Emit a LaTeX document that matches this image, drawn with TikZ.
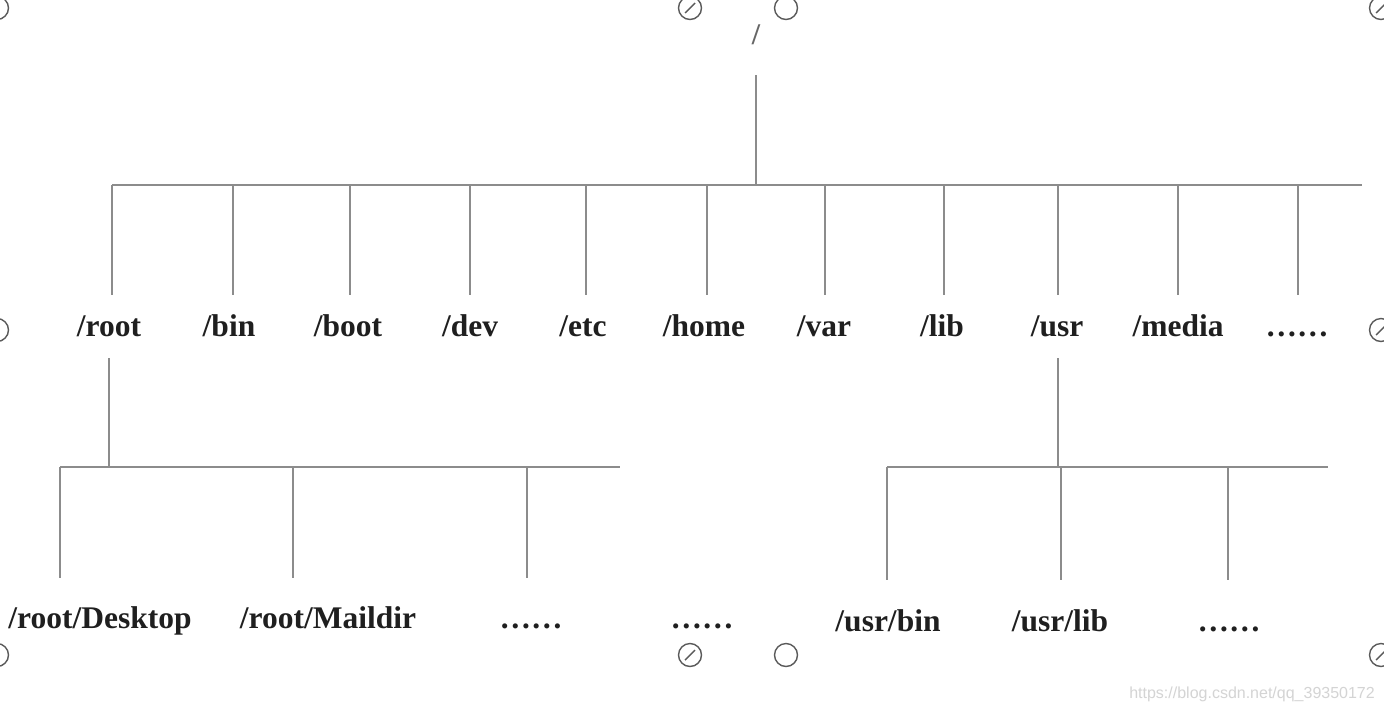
\documentclass[tikz,border=0pt]{standalone}
\usepackage{fontspec}
\setmainfont{Liberation Serif}
\newfontfamily\wmfont{Liberation Sans}
\definecolor{linegray}{HTML}{8C8C8C}
\definecolor{handlegray}{HTML}{5A5A5A}
\definecolor{wmgray}{HTML}{D4D4D4}
\begin{document}
\begin{tikzpicture}[x=1pt,y=-1pt,
  ln/.style={draw=linegray, line width=2pt},
  lbl/.style={font=\bfseries\fontsize{31.5}{36}\selectfont, inner sep=0pt, anchor=base, text=black!88},
  handle/.style={draw=handlegray, line width=1.4pt},
  wm/.style={font=\wmfont\fontsize{16}{18}\selectfont, text=wmgray, inner sep=0pt, anchor=base east}]
\useasboundingbox[fill=white] (0,0) rectangle (1384,710);

% root
\node[inner sep=0pt, anchor=base, text=black!60, font=\bfseries\fontsize{30}{32}\selectfont] (top) at (756,44) {/};
\coordinate (topL) at (756,75);
\coordinate (topJ) at (756,185);
\coordinate (busL) at (112,185);
\coordinate (busR) at (1362,185);
\draw[ln] (topL) -- (topJ);
\draw[ln] (busL) -- (busR);

% first level
\node[lbl] (root)  at (109,336) {/root};
\node[lbl] (bin)   at (229,336) {/bin};
\node[lbl] (boot)  at (348,336) {/boot};
\node[lbl] (dev)   at (470,336) {/dev};
\node[lbl] (etc)   at (583,336) {/etc};
\node[lbl] (home)  at (704,336) {/home};
\node[lbl] (var)   at (824,336) {/var};
\node[lbl] (lib)   at (942,336) {/lib};
\node[lbl] (usr)   at (1057,336) {/usr};
\node[lbl] (media) at (1178,336) {/media};
\node[lbl] (more)  at (1297,336) {……};

\foreach \n/\x in {root/112, bin/233, boot/350, dev/470, etc/586, home/707, var/825, lib/944, usr/1058, media/1178, more/1298}{
  \coordinate (\n T) at (\x,185);
  \coordinate (\n B) at (\x,295);
  \draw[ln] (\n T) -- (\n B);
}

% /root subtree
\coordinate (rootD) at (109,358);
\coordinate (rootJ) at (109,467);
\coordinate (rbusL) at (60,467);
\coordinate (rbusR) at (620,467);
\draw[ln] (rootD) -- (rootJ);
\draw[ln] (rbusL) -- (rbusR);

\node[lbl] (desktop) at (100,628) {/root/Desktop};
\node[lbl] (maildir) at (328,628) {/root/Maildir};
\node[lbl] (rmore)   at (531,628) {……};
\node[lbl] (midmore) at (702,628) {……};

\foreach \n/\x in {desktop/60, maildir/293, rmore/527}{
  \coordinate (\n T) at (\x,467);
  \coordinate (\n B) at (\x,578);
  \draw[ln] (\n T) -- (\n B);
}

% /usr subtree
\coordinate (usrD) at (1058,358);
\coordinate (usrJ) at (1058,467);
\coordinate (ubusL) at (887,467);
\coordinate (ubusR) at (1328,467);
\draw[ln] (usrD) -- (usrJ);
\draw[ln] (ubusL) -- (ubusR);

\node[lbl] (usrbin) at (888,631) {/usr/bin};
\node[lbl] (usrlib) at (1060,631) {/usr/lib};
\node[lbl] (umore)  at (1229,631) {……};

\foreach \n/\x in {usrbin/887, usrlib/1061, umore/1228}{
  \coordinate (\n T) at (\x,467);
  \coordinate (\n B) at (\x,580);
  \draw[ln] (\n T) -- (\n B);
}

% screenshot selection handles
\foreach \x/\y in {-3/8, 786/8, -3/330, -3/655, 786/655}{
  \draw[handle] (\x,\y) circle (11.5);
}
\foreach \x/\y in {690/8, 1381/8, 1381/330, 690/655, 1381/655}{
  \draw[handle] (\x,\y) circle (11.5);
  \draw[handle] (\x-5,\y+5) -- (\x+5,\y-5);
}

% watermark
\node[wm] (mark) at (1375,698) {https://blog.csdn.net/qq\_39350172};
\end{tikzpicture}
\end{document}
